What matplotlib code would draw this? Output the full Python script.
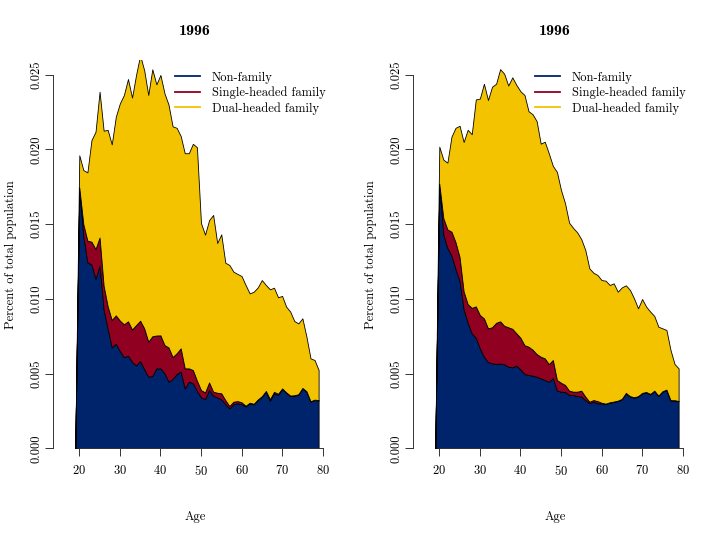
import numpy as np
import matplotlib
matplotlib.use("Agg")
import matplotlib.pyplot as plt
from matplotlib.lines import Line2D
from matplotlib.ticker import FormatStrFormatter

plt.rcParams['font.family'] = ['cmr10', 'DejaVu Serif']
plt.rcParams['axes.formatter.use_mathtext'] = True

ages = list(range(19, 80))

series_names = ["Non-family", "Single-headed family", "Dual-headed family"]
colors = ["#00246B", "#900020", "#F3C300"]

# Panel 1
nonfam_1 = [0, 0.01730, 0.01420, 0.01245, 0.01230, 0.01134, 0.01223, 0.00930, 0.00800, 0.00676,
            0.00700, 0.00650, 0.00610, 0.00620, 0.00578, 0.00555, 0.00583, 0.00530, 0.00479, 0.00484,
            0.00535, 0.00535, 0.00502, 0.00446, 0.00464, 0.00497, 0.00513, 0.00401, 0.00446, 0.00435,
            0.00386, 0.00341, 0.00330, 0.00390, 0.00352, 0.00341, 0.00328, 0.00296, 0.00267, 0.00296,
            0.00301, 0.00296, 0.00279, 0.00301, 0.00294, 0.00323, 0.00345, 0.00379, 0.00319, 0.00368,
            0.00357, 0.00397, 0.00372, 0.00350, 0.00352, 0.00359, 0.00401, 0.00379, 0.00312, 0.00323,
            0.00319]
single_1 = [0, 0.00015, 0.00080, 0.00145, 0.00153, 0.00200, 0.00188, 0.00158, 0.00150, 0.00183,
            0.00190, 0.00205, 0.00220, 0.00230, 0.00217, 0.00270, 0.00271, 0.00273, 0.00235, 0.00266,
            0.00220, 0.00221, 0.00189, 0.00229, 0.00147, 0.00139, 0.00156, 0.00134, 0.00089, 0.00089,
            0.00067, 0.00049, 0.00044, 0.00051, 0.00027, 0.00031, 0.00040, 0.00027, 0.00016, 0.00016,
            0.00015, 0.00012, 0.00006, 0.00004, 0.00004, 0.00004, 0.00004, 0.00005, 0.00010, 0.00010,
            0.00008, 0.00004, 0.00003, 0.00003, 0.00003, 0.00003, 0.00003, 0.00003, 0.00003, 0.00003,
            0.00003]
dual_1 = [0, 0.00216, 0.00362, 0.00457, 0.00680, 0.00785, 0.00976, 0.01038, 0.01181, 0.01175,
          0.01329, 0.01454, 0.01535, 0.01622, 0.01552, 0.01675, 0.01776, 0.01727, 0.01651, 0.01787,
          0.01681, 0.01743, 0.01685, 0.01625, 0.01544, 0.01509, 0.01421, 0.01440, 0.01440, 0.01514,
          0.01562, 0.01117, 0.01056, 0.01086, 0.01183, 0.01002, 0.01064, 0.00919, 0.00944, 0.00870,
          0.00851, 0.00845, 0.00808, 0.00732, 0.00750, 0.00750, 0.00777, 0.00709, 0.00735, 0.00697,
          0.00646, 0.00619, 0.00573, 0.00562, 0.00497, 0.00474, 0.00466, 0.00365, 0.00287, 0.00265,
          0.00202]

# Panel 2
nonfam_2 = [0, 0.01750, 0.01430, 0.01340, 0.01290, 0.01200, 0.01120, 0.00930, 0.00840, 0.00769,
            0.00740, 0.00669, 0.00613, 0.00577, 0.00569, 0.00565, 0.00567, 0.00562, 0.00546, 0.00542,
            0.00553, 0.00528, 0.00497, 0.00491, 0.00486, 0.00479, 0.00468, 0.00457, 0.00446, 0.00470,
            0.00386, 0.00379, 0.00377, 0.00357, 0.00357, 0.00350, 0.00346, 0.00323, 0.00301, 0.00312,
            0.00301, 0.00301, 0.00296, 0.00305, 0.00310, 0.00316, 0.00328, 0.00368, 0.00346, 0.00339,
            0.00346, 0.00368, 0.00374, 0.00361, 0.00383, 0.00350, 0.00379, 0.00390, 0.00319, 0.00319,
            0.00314]
single_2 = [0, 0.00020, 0.00110, 0.00125, 0.00160, 0.00180, 0.00160, 0.00120, 0.00125, 0.00171,
            0.00210, 0.00223, 0.00257, 0.00226, 0.00241, 0.00275, 0.00283, 0.00258, 0.00264, 0.00258,
            0.00217, 0.00212, 0.00193, 0.00189, 0.00174, 0.00152, 0.00145, 0.00145, 0.00118, 0.00121,
            0.00071, 0.00060, 0.00047, 0.00029, 0.00022, 0.00029, 0.00040, 0.00023, 0.00011, 0.00011,
            0.00015, 0.00004, 0.00003, 0.00003, 0.00003, 0.00003, 0.00003, 0.00003, 0.00003, 0.00003,
            0.00003, 0.00003, 0.00003, 0.00003, 0.00003, 0.00003, 0.00003, 0.00003, 0.00003, 0.00003,
            0.00003]
dual_2 = [0, 0.00249, 0.00392, 0.00447, 0.00636, 0.00765, 0.00879, 0.01000, 0.01167, 0.01162,
          0.01385, 0.01449, 0.01570, 0.01528, 0.01610, 0.01600, 0.01688, 0.01687, 0.01618, 0.01683,
          0.01662, 0.01650, 0.01675, 0.01576, 0.01576, 0.01559, 0.01426, 0.01450, 0.01410, 0.01299,
          0.01393, 0.01290, 0.01216, 0.01124, 0.01096, 0.01066, 0.01014, 0.00981, 0.00892, 0.00852,
          0.00844, 0.00821, 0.00823, 0.00785, 0.00791, 0.00729, 0.00746, 0.00720, 0.00711, 0.00662,
          0.00588, 0.00628, 0.00571, 0.00551, 0.00500, 0.00461, 0.00421, 0.00399, 0.00336, 0.00242,
          0.00218]

titles = ["1996", "1996"]
x_ticks = [20, 30, 40, 50, 60, 70, 80]
y_ticks = [0.000, 0.005, 0.010, 0.015, 0.020, 0.025]

panels = [(nonfam_1, single_1, dual_1), (nonfam_2, single_2, dual_2)]

fig = plt.figure(figsize=(7.2, 5.4), dpi=100)
W, H = 720.0, 540.0
ax_w = 283.4
lefts = [53.3, 413.3]
bottom_px = 448.3
top_px = 60.0

for i, (data, left) in enumerate(zip(panels, lefts)):
    ax = fig.add_axes([left / W, (H - bottom_px) / H, ax_w / W, (bottom_px - top_px) / H])
    ax.stackplot(ages, *data, colors=colors, edgecolor="black", linewidth=0.6)
    ax.set_xlim(13.59, 83.46)
    ax.set_ylim(0, 0.02599)
    for s in ["top", "right"]:
        ax.spines[s].set_visible(False)
    ax.spines["left"].set_bounds(0, 0.025)
    ax.spines["bottom"].set_bounds(20, 80)
    for s in ["left", "bottom"]:
        ax.spines[s].set_color("#333333")
        ax.spines[s].set_linewidth(0.7)
        ax.spines[s].set_zorder(5)
    ax.set_xticks(x_ticks)
    ax.set_yticks(y_ticks)
    ax.yaxis.set_major_formatter(FormatStrFormatter("%.3f"))
    ax.tick_params(axis="x", length=5.5, width=0.7, color="#333333", pad=6, labelsize=9)
    ax.tick_params(axis="y", length=5.5, width=0.7, color="#333333", pad=2, labelsize=9)
    for lab in ax.get_yticklabels():
        lab.set_rotation(90)
        lab.set_va("center")
    ax.set_title(titles[i], fontfamily="cmb10", fontsize=11.5, pad=18)
    ax.set_xlabel("Age", fontsize=9)
    ax.xaxis.set_label_coords(0.5, -0.160)
    ax.set_ylabel("Percent of total population", fontsize=9)
    ax.yaxis.set_label_coords(-0.127, 0.5)
    handles = [Line2D([0], [0], color=c, lw=1.3) for c in colors]
    ax.legend(handles, series_names, loc="upper left", bbox_to_anchor=(0.43, 0.97),
              frameon=False, fontsize=9, borderpad=0, borderaxespad=0,
              handlelength=2.0, handletextpad=0.95, labelspacing=0.22)

fig.savefig("out.png", dpi=100)
